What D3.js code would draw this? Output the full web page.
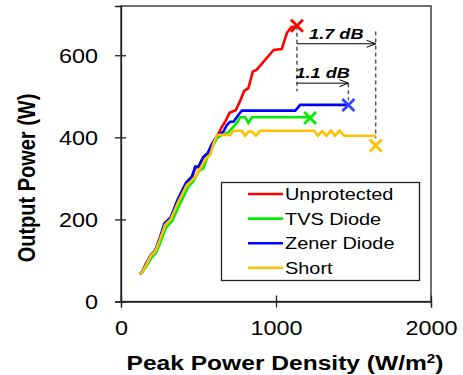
<!DOCTYPE html>
<html>
<head>
<meta charset="utf-8">
<script src="https://cdn.jsdelivr.net/npm/d3@7"></script>
<style>
  body{margin:0;background:#fff}
  text{font-family:"Liberation Sans",Arial,sans-serif}
</style>
</head>
<body>
<div id="Chart"></div>
<script>
// data
var xTicks=[0,1000,2000]
var yTicks=[0,200,400,600]
var seriesNames=["Unprotected","TVS Diode","Zener Diode","Short"]
var seriesColors=["#ff0000","#00ee00","#0000ff","#ffc000"]
var unprotected=[[120,68],[135,70],[160,89],[190,111],[220,123],[250,152],[285,188],[320,202],[370,246],[425,287],[455,300],[480,325],[500,328],[530,350],[560,360],[590,385],[620,403],[650,425],[675,440],[700,460],[740,466],[770,490],[795,513],[822,520],[850,560],[876,565],[985,613],[1037,615],[1070,654],[1100,669],[1130,670]]
var tvsDiode=[[120,68],[135,70],[163,86],[195,106],[225,118],[255,145],[290,180],[330,196],[380,238],[435,280],[465,292],[500,317],[532,325],[551,345],[575,365],[597,382],[620,398],[650,406],[693,412],[726,426],[747,435],[769,449],[801,449],[822,435],[844,449],[1220,449]]
var zenerDiode=[[120,68],[135,70],[158,90],[190,112],[220,124],[250,155],[280,190],[320,205],[365,248],[420,290],[457,304],[479,329],[500,329],[532,353],[560,362],[590,386],[620,404],[661,414],[683,430],[704,438],[726,438],[758,455],[780,465],[1125,465],[1156,479],[1467,479]]
var shortCircuit=[[120,68],[135,70],[160,88],[190,110],[220,122],[250,150],[285,187],[320,200],[370,243],[425,284],[450,292],[490,309],[520,330],[545,347],[575,357],[600,388],[620,405],[640,406],[705,406],[725,416],[780,416],[800,404],[822,414],[845,414],[870,404],[898,416],[1245,416],[1270,404],[1300,415],[1325,404],[1355,416],[1380,404],[1410,416],[1440,404],[1645,404]]
var failurePoints=[[1135,672],[1220,447],[1467,479],[1643,380]]
// dashed guides: x, y from, y to
var guideLines=[[1135,672,512],[1467,532,490],[1643,658,398]]
// gain arrows: label, x from, x to, y of arrow, y of label
var gainLabels=["1.7 dB","1.1 dB"]
var gainArrows=[[1135,1643,628,640],[1135,1467,532,544]]

var allSeries=[unprotected,tvsDiode,zenerDiode,shortCircuit]
var SX=1.17 // the picture is stretched sideways

var Width=463,Height=375
var margin={top:6,left:121,right:32,bottom:73.5}
var width=Width-margin.left-margin.right,
    height=Height-margin.top-margin.bottom

var svg=d3.select("#Chart").append("svg")
  .attr("width",Width).attr("height",Height)
var g=svg.append("g").attr("transform",`translate(${margin.left},${margin.top})`)

var X=d3.scaleLinear().domain([0,2000]).range([0,width])
var Y=d3.scaleLinear().domain([0,720]).range([height,0])

// frame
g.append("rect").attr("width",width).attr("height",height)
  .attr("fill","none").attr("stroke","#222").attr("stroke-width",1.3)

var xAxis=g.append("g").attr("transform",`translate(0,${height})`)
  .call(d3.axisBottom(X).tickValues(xTicks).tickFormat(d3.format("d")).tickSize(6))
xAxis.select(".domain").attr("stroke","#222").attr("stroke-width",1.3)
xAxis.selectAll(".tick line").attr("y1",-6).attr("y2",6).attr("stroke","#222").attr("stroke-width",1.3)
xAxis.selectAll(".tick text").attr("y",null).attr("dy",null)
  .attr("transform",`translate(0,33) scale(${SX},1)`)
  .attr("fill","#000").style("font-size","20px")

var yAxis=g.append("g")
  .call(d3.axisLeft(Y).tickValues(yTicks).tickSize(6))
yAxis.select(".domain").attr("stroke","#222").attr("stroke-width",1.3)
yAxis.selectAll(".tick line").attr("x1",5).attr("x2",-6).attr("stroke","#222").attr("stroke-width",1.3)
yAxis.selectAll(".tick text").attr("x",null).attr("dy","0.36em")
  .attr("transform",`translate(-23,0) scale(${SX},1)`)
  .attr("fill","#000").style("font-size","20px")

// axis titles
var xt=svg.append("text").attr("transform",`translate(285,370) scale(${SX},1)`)
  .attr("text-anchor","middle").style("font-size","21px").style("font-weight","bold")
xt.append("tspan").text("Peak Power Density (W/m")
xt.append("tspan").attr("dy",-7).style("font-size","13px").text("2")
xt.append("tspan").attr("dy",7).text(")")

svg.append("text").attr("transform",`translate(35,178) rotate(-90) scale(1,${SX})`)
  .attr("text-anchor","middle").style("font-size","20px").style("font-weight","bold")
  .text("Output Power (W)")

// guides and arrows
g.selectAll(".guide").data(guideLines).enter().append("line")
  .attr("x1",d=>X(d[0])).attr("x2",d=>X(d[0]))
  .attr("y1",d=>Y(d[1])).attr("y2",d=>Y(d[2]))
  .attr("stroke","#555").attr("stroke-width",1.5).attr("stroke-dasharray","4,3")

var arrows=g.selectAll(".gain").data(gainArrows).enter().append("g")
arrows.append("line")
  .attr("x1",d=>X(d[0])).attr("x2",d=>X(d[1]))
  .attr("y1",d=>Y(d[2])).attr("y2",d=>Y(d[2]))
  .attr("stroke","#000").attr("stroke-width",1)
arrows.append("path")
  .attr("d",d=>`M${X(d[1])-9},${Y(d[2])-3.5}L${X(d[1])},${Y(d[2])}L${X(d[1])-9},${Y(d[2])+3.5}`)
  .attr("fill","none").attr("stroke","#000").attr("stroke-width",1)
arrows.append("text")
  .attr("transform",d=>`translate(${(X(d[0])+X(d[1]))/2+(d[1]-d[0]>400?0:0)},${Y(d[3])}) scale(${SX},1)`)
  .attr("text-anchor","middle").style("font-size","15.5px")
  .style("font-weight","bold").style("font-style","italic")
  .text((d,i)=>gainLabels[i])

// curves
var line=d3.line().x(d=>X(d[0])).y(d=>Y(d[1]))
g.selectAll(".curve").data(allSeries).enter().append("path")
  .attr("d",line).attr("fill","none")
  .attr("stroke",(d,i)=>seriesColors[i]).attr("stroke-width",2.6)
  .attr("stroke-linejoin","miter")

// failure markers
var s=6
g.selectAll(".mark").data(failurePoints).enter().append("path")
  .attr("d",d=>{var x=X(d[0]),y=Y(d[1]);return `M${x-s},${y-s}L${x+s},${y+s}M${x-s},${y+s}L${x+s},${y-s}`})
  .attr("stroke",(d,i)=>i==2?"#3344ff":seriesColors[i]).attr("stroke-width",2.8).attr("fill","none")

// legend
var lg=svg.append("g")
lg.append("rect").attr("x",221.5).attr("y",182.5).attr("width",198).attr("height",98)
  .attr("fill","#fff").attr("stroke","#222").attr("stroke-width",1.3)
var rows=lg.selectAll(".row").data(seriesNames).enter().append("g")
  .attr("transform",(d,i)=>`translate(0,${194+i*24.6})`)
rows.append("line").attr("x1",248).attr("x2",283).attr("y1",0).attr("y2",0)
  .attr("stroke",(d,i)=>seriesColors[i]).attr("stroke-width",2.6)
rows.append("text").attr("transform",`translate(285,6) scale(${SX},1)`)
  .style("font-size","17px").attr("fill","#000").text(d=>d)
</script>
</body>
</html>
